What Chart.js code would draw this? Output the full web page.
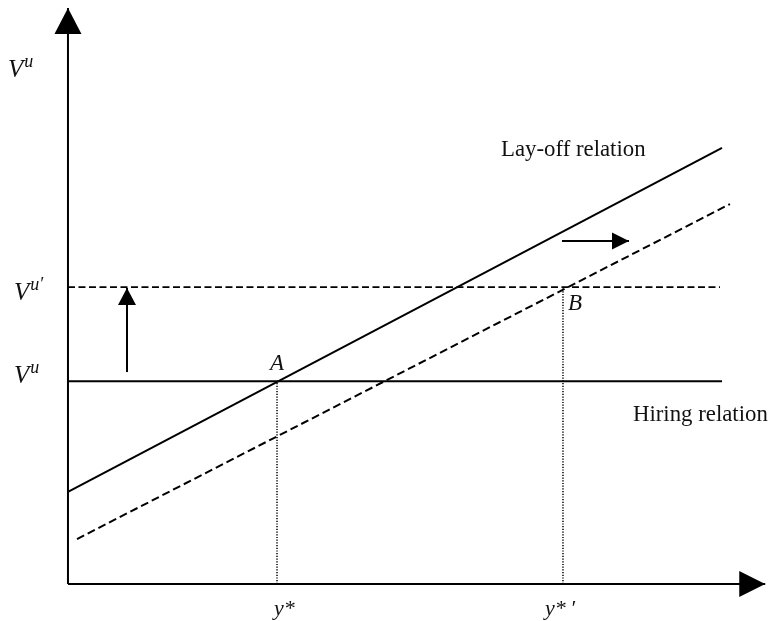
<!DOCTYPE html>
<html>
<head>
<meta charset="utf-8">
<script src="https://cdn.jsdelivr.net/npm/chart.js@4.4.1/dist/chart.umd.min.js"></script>
<style>
html,body{margin:0;padding:0;background:#fff;}
#c{display:block;}
</style>
</head>
<body>
<canvas id="c" width="769" height="621"></canvas>
<script>
// ---- data (in abstract diagram units: origin at axes crossing) ----
const axisY = { x: [0, 0], y: [0, 10] };
const axisX = { x: [0, 9.96], y: [0, 0] };
const layoffX = [0, 9.343];
const layoffY = [1.6, 7.57];
const layoffShiftX = [0.129, 9.457];
const layoffShiftY = [0.781, 6.597];
const hiringX = [0, 9.343];
const hiringY = [3.52, 3.52];
const hiringShiftX = [0, 9.314];
const hiringShiftY = [5.156, 5.156];
const dropAX = [2.986, 2.986];
const dropAY = [0, 3.52];
const dropBX = [7.071, 7.071];
const dropBY = [0, 5.156];
const upArrowX = [0.843, 0.843];
const upArrowY = [3.68, 5.14];
const rightArrowX = [7.057, 8.014];
const rightArrowY = [5.955, 5.955];

const labelTexts = ['Lay-off relation', 'Hiring relation', 'A', 'B', 'y*', 'y*\u2009′'];
const labelX = [6.186, 8.071, 2.986, 7.143, 2.943, 6.814];
const labelY = [7.431, 2.83, 3.715, 4.757, -0.538, -0.538];

const vLabelSup = ['u', 'u′', 'u'];
const vLabelX = [-0.857, -0.771, -0.771];
const vLabelY = [8.80, 4.93, 3.49];

function pts(xs, ys) { return xs.map((x, i) => ({ x: x, y: ys[i] })); }

const base = { showLine: true, pointRadius: 0, borderColor: '#000', borderWidth: 2, fill: false, tension: 0 };

const datasets = [
  Object.assign({}, base, { data: pts(axisY.x, axisY.y), arrow: { len: 26, wid: 27 } }),
  Object.assign({}, base, { data: pts(axisX.x, axisX.y), arrow: { len: 26, wid: 26 } }),
  Object.assign({}, base, { data: pts(layoffX, layoffY) }),
  Object.assign({}, base, { data: pts(layoffShiftX, layoffShiftY), borderDash: [8, 4] }),
  Object.assign({}, base, { data: pts(hiringX, hiringY) }),
  Object.assign({}, base, { data: pts(hiringShiftX, hiringShiftY), borderWidth: 1.8, borderDash: [7, 3.5] }),
  Object.assign({}, base, { data: pts(dropAX, dropAY), borderWidth: 1.5, borderDash: [1.2, 1.5], borderColor: '#000' }),
  Object.assign({}, base, { data: pts(dropBX, dropBY), borderWidth: 1.5, borderDash: [1.2, 1.5], borderColor: '#000' }),
  Object.assign({}, base, { data: pts(upArrowX, upArrowY), arrow: { len: 17, wid: 18 } }),
  Object.assign({}, base, { data: pts(rightArrowX, rightArrowY), arrow: { len: 17, wid: 17 } })
];

const decor = {
  id: 'decor',
  afterDatasetsDraw(chart) {
    const ctx = chart.ctx;
    const xs = chart.scales.x, ys = chart.scales.y;
    ctx.save();
    // arrowheads
    chart.data.datasets.forEach(ds => {
      if (!ds.arrow) return;
      const n = ds.data.length;
      const p1 = ds.data[n - 2], p2 = ds.data[n - 1];
      const x1 = xs.getPixelForValue(p1.x), y1 = ys.getPixelForValue(p1.y);
      const x2 = xs.getPixelForValue(p2.x), y2 = ys.getPixelForValue(p2.y);
      const a = Math.atan2(y2 - y1, x2 - x1);
      const L = ds.arrow.len, W = ds.arrow.wid / 2;
      ctx.beginPath();
      ctx.moveTo(x2, y2);
      ctx.lineTo(x2 - L * Math.cos(a) - W * Math.sin(a), y2 - L * Math.sin(a) + W * Math.cos(a));
      ctx.lineTo(x2 - L * Math.cos(a) + W * Math.sin(a), y2 - L * Math.sin(a) - W * Math.cos(a));
      ctx.closePath();
      ctx.fillStyle = '#000';
      ctx.fill();
    });
    // labels
    ctx.fillStyle = '#111';
    ctx.textBaseline = 'alphabetic';
    labelTexts.forEach((t, i) => {
      const px = xs.getPixelForValue(labelX[i]), py = ys.getPixelForValue(labelY[i]);
      if (t === 'A') {
        ctx.font = 'italic 23px "Liberation Serif"';
        ctx.textAlign = 'center';
      } else if (t === 'B') {
        ctx.font = 'italic 23px "Liberation Serif"';
        ctx.textAlign = 'left';
      } else if (t.startsWith('y')) {
        ctx.font = 'italic 22px "Liberation Serif"';
        ctx.textAlign = 'left';
      } else {
        ctx.font = '22.8px "Liberation Serif"';
        ctx.textAlign = 'left';
      }
      ctx.fillText(t, px, py);
    });
    // V^u labels
    ctx.textAlign = 'left';
    vLabelSup.forEach((s, i) => {
      const px = xs.getPixelForValue(vLabelX[i]), py = ys.getPixelForValue(vLabelY[i]);
      ctx.font = 'italic 25px "Liberation Serif"';
      ctx.fillText('V', px, py);
      const w = ctx.measureText('V').width;
      ctx.font = 'italic 18px "Liberation Serif"';
      ctx.fillText(s, px + w + 1, py - 10);
    });
    ctx.restore();
  }
};

new Chart(document.getElementById('c'), {
  type: 'scatter',
  data: { datasets: datasets },
  options: {
    responsive: false,
    devicePixelRatio: 1,
    animation: false,
    layout: { padding: 0 },
    plugins: { legend: { display: false }, tooltip: { enabled: false } },
    scales: {
      x: { type: 'linear', min: -0.971, max: 10.014, display: false },
      y: { type: 'linear', min: -0.642, max: 10.139, display: false }
    }
  },
  plugins: [decor]
});
</script>
</body>
</html>
